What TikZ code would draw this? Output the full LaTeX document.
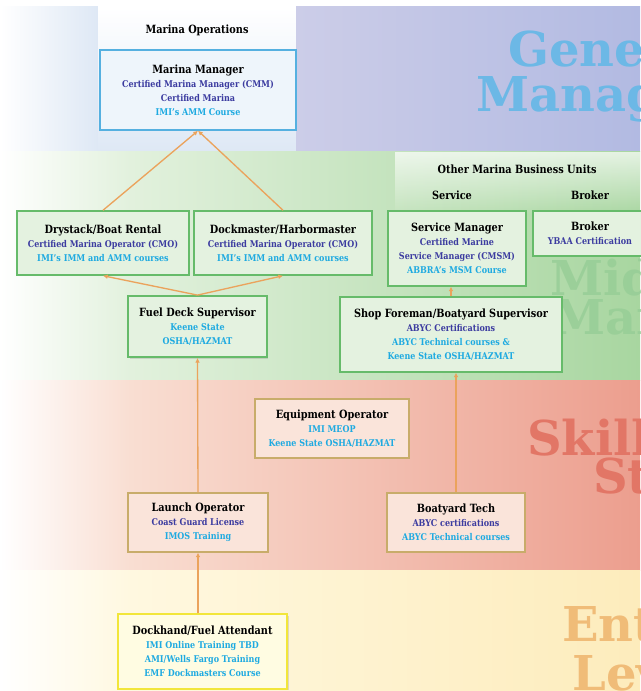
\documentclass[tikz,border=0pt]{standalone}
\usepackage{fontspec}
\setmainfont{DejaVu Serif}[FakeStretch=0.86]
\newfontfamily\wmfont{DejaVu Serif}
\usetikzlibrary{arrows.meta,shadows,fadings}

\definecolor{genpale}{RGB}{222,232,245}
\definecolor{genlav}{RGB}{204,205,232}
\definecolor{genlavdark}{RGB}{178,186,226}
\definecolor{midpale}{RGB}{226,241,221}
\definecolor{midgreen}{RGB}{168,214,160}
\definecolor{skpale}{RGB}{249,222,210}
\definecolor{skdark}{RGB}{236,158,142}
\definecolor{entpale}{RGB}{255,248,224}
\definecolor{entdark}{RGB}{253,236,188}
\definecolor{genline}{RGB}{85,176,224}
\definecolor{genfill}{RGB}{238,245,251}
\definecolor{midline}{RGB}{102,187,106}
\definecolor{midfill}{RGB}{228,242,224}
\definecolor{skline}{RGB}{200,172,106}
\definecolor{skfill}{RGB}{250,228,218}
\definecolor{entline}{RGB}{242,230,58}
\definecolor{entfill}{RGB}{255,252,226}
\definecolor{linkorange}{RGB}{235,163,92}
\definecolor{certdark}{RGB}{60,60,160}
\definecolor{certlight}{RGB}{30,170,225}
\definecolor{wmgen}{RGB}{108,184,230}
\definecolor{wmmid}{RGB}{150,205,150}
\definecolor{wmskill}{RGB}{226,118,102}
\definecolor{wmentry}{RGB}{240,188,120}

\tikzfading[name=fade down, top color=transparent!30, bottom color=transparent!100]

\newcommand{\roletitle}[1]{{\fontsize{8.5}{10}\selectfont #1}}
\newcommand{\certdark}[1]{\textcolor{certdark}{#1}}
\newcommand{\certlight}[1]{\textcolor{certlight}{#1}}

\tikzset{
  rolebox/.style={draw, line width=1.1pt, align=center, inner sep=2pt,
    font=\fontsize{7}{10.5}\selectfont\bfseries,
    drop shadow={shadow xshift=1pt, shadow yshift=-1pt, opacity=0.25}},
  genbox/.style={rolebox, draw=genline, fill=genfill},
  midbox/.style={rolebox, draw=midline, fill=midfill},
  skillbox/.style={rolebox, draw=skline, fill=skfill},
  entrybox/.style={rolebox, draw=entline, fill=entfill},
  unitlabel/.style={font=\fontsize{8.5}{10}\selectfont\bfseries},
  wmark/.style={anchor=base west, inner sep=0pt, font=\wmfont\fontsize{36}{38}\selectfont\bfseries},
  orgline/.style={draw=linkorange, line width=1pt, -{Latex[length=3.5pt,width=3.5pt]}}
}

\begin{document}
\begin{tikzpicture}[x=0.75pt, y=-0.75pt]
  \useasboundingbox (0,0) rectangle (640,691);
  % bands
  \fill[white] (0,0) rectangle (640,691);
  \fill[left color=white, right color=genpale] (0,7) rectangle (98,152);
  \fill[top color=white, bottom color=genpale] (98,7) rectangle (296,152);
  \fill[left color=genlav, right color=genlavdark] (296,7) rectangle (640,152);
  \fill[left color=white, right color=midpale] (0,152) rectangle (130,380);
  \fill[left color=midpale, right color=midgreen] (130,152) rectangle (640,380);
  \fill[white, path fading=fade down] (395,152) rectangle (640,215);
  \fill[left color=white, right color=skpale] (0,380) rectangle (130,570);
  \fill[left color=skpale, right color=skdark] (130,380) rectangle (640,570);
  \fill[left color=white, right color=entpale] (0,570) rectangle (130,691);
  \fill[left color=entpale, right color=entdark] (130,570) rectangle (640,691);

  \begin{scope}
    \clip (0,0) rectangle (640,691);
    \draw
      (508,67) node[wmark, text=wmgen] (gentop) {General}
      (476,112) node[wmark, text=wmgen] (genbot) {Management}
      (550,295) node[wmark, text=wmmid, opacity=0.8] (midtop) {Middle}
      (552,334) node[wmark, text=wmmid, opacity=0.8] (midbot) {Management}
      (527,455) node[wmark, text=wmskill] (skilltop) {Skilled}
      (593,493) node[wmark, text=wmskill] (skillbot) {Staff}
      (562,641) node[wmark, text=wmentry] (entrytop) {Entry}
      (572,690) node[wmark, text=wmentry] (entrybot) {Level};
  \end{scope}

  \draw
    (197,30) node[unitlabel] (opslabel) {Marina Operations}
    (517,169) node[unitlabel] (otherlabel) {Other Marina Business Units}
    (452,195) node[unitlabel] (servicelabel) {Service}
    (590,195) node[unitlabel] (brokerlabel) {Broker};

  \draw
    (198,90) node[genbox, minimum width=147pt, minimum height=60pt] (mm)
      {\roletitle{Marina Manager}\\ \certdark{Certified Marina Manager (CMM)}\\
       \certdark{Certified Marina}\\ \certlight{IMI's AMM Course}}
    (103,243) node[midbox, minimum width=129pt, minimum height=48pt] (drystack)
      {\roletitle{Drystack/Boat Rental}\\ \certdark{Certified Marina Operator (CMO)}\\
       \certlight{IMI's IMM and AMM courses}}
    (283,243) node[midbox, minimum width=133.5pt, minimum height=48pt] (dockmaster)
      {\roletitle{Dockmaster/Harbormaster}\\ \certdark{Certified Marina Operator (CMO)}\\
       \certlight{IMI's IMM and AMM courses}}
    (197.5,326.5) node[midbox, minimum width=104pt, minimum height=46pt] (fueldeck)
      {\roletitle{Fuel Deck Supervisor}\\ \certlight{Keene State}\\ \certlight{OSHA/HAZMAT}}
    (457,248.5) node[midbox, minimum width=103.5pt, minimum height=56pt] (servicemgr)
      {\roletitle{Service Manager}\\ \certdark{Certified Marine}\\
       \certdark{Service Manager (CMSM)}\\ \certlight{ABBRA's MSM Course}}
    (590,233.5) node[midbox, minimum width=85.5pt, minimum height=34pt] (broker)
      {\roletitle{Broker}\\ \certdark{YBAA Certification}}
    (451,334.5) node[midbox, minimum width=166.5pt, minimum height=56pt] (foreman)
      {\roletitle{Shop Foreman/Boatyard Supervisor}\\ \certdark{ABYC Certifications}\\
       \certlight{ABYC Technical courses \&}\\ \certlight{Keene State OSHA/HAZMAT}}
    (332,428.5) node[skillbox, minimum width=115.5pt, minimum height=44pt] (equipop)
      {\roletitle{Equipment Operator}\\ \certlight{IMI MEOP}\\ \certlight{Keene State OSHA/HAZMAT}}
    (198,522.5) node[skillbox, minimum width=105pt, minimum height=44pt] (launchop)
      {\roletitle{Launch Operator}\\ \certdark{Coast Guard License}\\ \certlight{IMOS Training}}
    (456,522.5) node[skillbox, minimum width=103.5pt, minimum height=44pt] (yardtech)
      {\roletitle{Boatyard Tech}\\ \certdark{ABYC certifications}\\ \certlight{ABYC Technical courses}}
    (202.5,651.5) node[entrybox, minimum width=127pt, minimum height=56pt] (dockhand)
      {\roletitle{Dockhand/Fuel Attendant}\\ \certlight{IMI Online Training TBD}\\
       \certlight{AMI/Wells Fargo Training}\\ \certlight{EMF Dockmasters Course}};

  \begin{scope}[orgline]
    \draw (drystack.north) -- (mm.south);
    \draw (dockmaster.north) -- (mm.south);
    \draw (fueldeck.north) -- (drystack.south);
    \draw (fueldeck.north) -- (dockmaster.south);
    \draw (launchop.north) -- (fueldeck.south);
    \draw (dockhand.north -| launchop.south) -- (launchop.south);
    \draw (yardtech.north) -- (yardtech.north |- foreman.south);
    \draw (foreman.north) -- (foreman.north |- servicemgr.south);
  \end{scope}
\end{tikzpicture}
\end{document}
